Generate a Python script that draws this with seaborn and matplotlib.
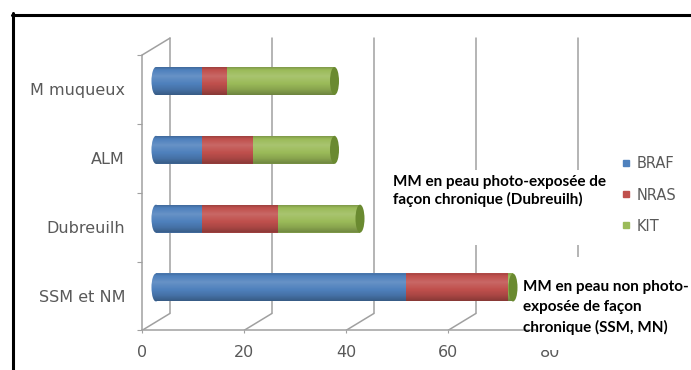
import numpy as np
import pandas as pd
import matplotlib
matplotlib.use("Agg")
import matplotlib.pyplot as plt
import seaborn as sns
from matplotlib.patches import Ellipse, Rectangle, PathPatch
from matplotlib.path import Path
from matplotlib.lines import Line2D

# ---- data -------------------------------------------------------------
categories = ["M muqueux", "ALM", "Dubreuilh", "SSM et NM"]
braf = [9, 9, 9, 49]
nras = [5, 10, 15, 20]
kit = [21, 16, 16, 1]
series_names = ["BRAF", "NRAS", "KIT"]
series_colors = ["#4F81BD", "#C0504D", "#9BBB59"]
end_face_colors = ["#3A6394", "#963B38", "#6A8A30"]
x_ticks = [0, 20, 40, 60, 80]
note_dubreuilh = "MM en peau photo-exposée de\nfaçon chronique (Dubreuilh)"
note_ssm = "MM en peau non photo-\nexposée de façon\nchronique (SSM, MN)"

# ---- figure geometry (pixels) -------------------------------------------
W, H, DPI = 691, 370, 100
X0_PX, PX_PER_UNIT = 156, 5.1        # bar value 0 and horizontal scale
ROW0_PX, ROW_STEP_PX = 81, 68.83     # first row centre and row pitch
DEPTH_DX, DEPTH_DY = 14, 8.5         # half depth of the 3D box
PX = 1 / PX_PER_UNIT
PY = 1 / ROW_STEP_PX
GRID = "#A0A0A0"
TXT = "#595959"

sns.set_theme(style="white")
plt.rcParams["font.family"] = ["DejaVu Sans"]

fig = plt.figure(figsize=(W / DPI, H / DPI), dpi=DPI)
fig.patch.set_facecolor("white")

xlim = (-DEPTH_DX * PX, 88)
ylim = (3.5 + DEPTH_DY * PY, -0.5 - DEPTH_DY * PY - 3 * PY)
left_px = X0_PX + xlim[0] * PX_PER_UNIT
right_px = X0_PX + xlim[1] * PX_PER_UNIT
bottom_px = ROW0_PX + ylim[0] * ROW_STEP_PX
top_px = ROW0_PX + ylim[1] * ROW_STEP_PX
ax = fig.add_axes([left_px / W, 1 - bottom_px / H,
                   (right_px - left_px) / W, (bottom_px - top_px) / H])


def proj(v, c, depth):
    """Map (value, row, depth) with depth -1 = front, +1 = back."""
    return v + depth * DEPTH_DX * PX, c - depth * DEPTH_DY * PY


# ---- stacked cylinders ---------------------------------------------------
df = pd.DataFrame({"cat": categories, "BRAF": braf, "NRAS": nras, "KIT": kit})
df["to_nras"] = df["BRAF"] + df["NRAS"]
df["to_kit"] = df["to_nras"] + df["KIT"]

bar_h = 28 * PY
for col, color in zip(["to_kit", "to_nras", "BRAF"], series_colors[::-1]):
    sns.barplot(data=df, x=col, y="cat", color=color, orient="h", width=bar_h,
                saturation=1, linewidth=0, ax=ax, zorder=3)

cap_a = 4.5 * PX
shade_t = np.linspace(0, 1, 64)
shade_v = np.interp(shade_t, [0, 0.1, 0.32, 0.55, 0.8, 1.0],
                    [-0.18, 0.0, 0.14, 0.02, -0.12, -0.30])
shade = np.zeros((64, 1, 4))
shade[:, 0, :3] = np.where(shade_v[:, None] > 0, 1.0, 0.0)
shade[:, 0, 3] = np.abs(shade_v)

for i, row in df.iterrows():
    total = row["to_kit"]
    top, bot = i - bar_h / 2, i + bar_h / 2
    # rounded left end of the cylinder
    ax.add_patch(Ellipse((0, i), 2 * cap_a, bar_h, facecolor=series_colors[0],
                         edgecolor="none", zorder=3))
    # silhouette for the shading overlay
    t = np.linspace(-np.pi / 2, -3 * np.pi / 2, 40)
    arc = np.column_stack([cap_a * np.cos(t), i + bar_h / 2 * np.sin(t)])
    verts = np.vstack([arc, [[total, bot], [total, top], arc[0]]])
    clip = PathPatch(Path(verts), transform=ax.transData,
                     facecolor="none", edgecolor="none")
    im = ax.imshow(shade, extent=(-cap_a, total, bot, top), aspect="auto",
                   interpolation="bilinear", zorder=4)
    im.set_clip_path(clip)
    # flat end face coloured after the last non-empty segment
    last = max(k for k, v in enumerate([row["BRAF"], row["NRAS"], row["KIT"]]) if v > 0)
    ax.add_patch(Ellipse((total, i), 2 * cap_a, bar_h,
                         facecolor=end_face_colors[last], edgecolor="none",
                         zorder=5))

# ---- 3D box: back wall, floor, left wall ---------------------------------
for v in x_ticks:
    xb0, yb0 = proj(v, -0.5, 1)
    xb1, yb1 = proj(v, 3.5, 1)
    ax.plot([xb0, xb1], [yb0, yb1], color=GRID, lw=1.1, zorder=1)
    xf, yf = proj(v, 3.5, -1)
    ax.plot([xf, xb1], [yf, yb1], color=GRID, lw=1.1, zorder=1)
xf, yf = proj(0, -0.5, -1)
xb, yb = proj(0, -0.5, 1)
ax.plot([xf, xb], [yf, yb], color=GRID, lw=1.1, zorder=1)

ax.set_xlim(*xlim)
ax.set_ylim(*ylim)

for side in ["top", "right"]:
    ax.spines[side].set_visible(False)
for side in ["left", "bottom"]:
    ax.spines[side].set_color(GRID)
    ax.spines[side].set_linewidth(1.1)
ax.spines["left"].set_bounds(proj(0, -0.5, -1)[1], proj(0, 3.5, -1)[1])
ax.spines["bottom"].set_bounds(proj(0, 3.5, -1)[0], proj(80, 3.5, -1)[0])

ax.set_xticks([proj(v, 3.5, -1)[0] for v in x_ticks], labels=[str(v) for v in x_ticks])
ax.set_yticks([proj(0, c, -1)[1] for c in range(len(categories))], labels=categories)
ax.set_yticks([proj(0, b, -1)[1] for b in np.arange(-0.5, 4, 1)], minor=True)
ax.tick_params(axis="x", which="major", length=2.2, width=0.8, color=GRID,
               direction="out", pad=8, labelsize=11.5, labelcolor=TXT, bottom=True)
ax.tick_params(axis="y", which="major", length=0, pad=12.2,
               labelsize=11.5, labelcolor=TXT, left=True)
ax.tick_params(axis="y", which="minor", length=3.6, width=0.8, color=GRID,
               direction="out", left=True)
ax.set_xlabel("")
ax.set_ylabel("")
ax.set_facecolor("none")

# ---- legend ----------------------------------------------------------------
handles = [Line2D([], [], marker="s", linestyle="", markersize=5, color=c)
           for c in series_colors]
leg = fig.legend(handles, series_names, loc="center left",
                 bbox_to_anchor=(613 / W, 1 - 195 / H), frameon=False,
                 fontsize=10.5, labelcolor=TXT, handlelength=0.8,
                 handletextpad=0.3, labelspacing=1.1, borderpad=0)
leg.set_zorder(4)

# ---- text boxes ----------------------------------------------------------
fig.add_artist(Rectangle((385 / W, 1 - 245 / H), (612 - 385) / W, (245 - 170) / H,
                         transform=fig.transFigure, facecolor="white",
                         edgecolor="none", zorder=2))
fig.add_artist(Rectangle((536 / W, 1 - 350 / H), (W - 536) / W, (350 - 257) / H,
                         transform=fig.transFigure, facecolor="white",
                         edgecolor="none", zorder=2))
fig.text(393 / W, 1 - 191 / H, note_dubreuilh, ha="left", va="center",
         fontfamily="Lato", fontweight="bold", fontsize=11, linespacing=1.2,
         color="black", zorder=3)
fig.text(523 / W, 1 - 307.5 / H, note_ssm, ha="left", va="center",
         fontfamily="Lato", fontweight="bold", fontsize=11, linespacing=1.5,
         color="black", zorder=3)

# ---- outer frame -----------------------------------------------------------
fig.add_artist(Line2D([12.5 / W, 12.5 / W], [0, 1 - 13 / H],
                      transform=fig.transFigure, color="black", lw=2.2, zorder=5))
fig.add_artist(Line2D([11.5 / W, 1], [1 - 14.5 / H, 1 - 14.5 / H],
                      transform=fig.transFigure, color="black", lw=2.2, zorder=5))

fig.savefig("out.png", dpi=DPI)
